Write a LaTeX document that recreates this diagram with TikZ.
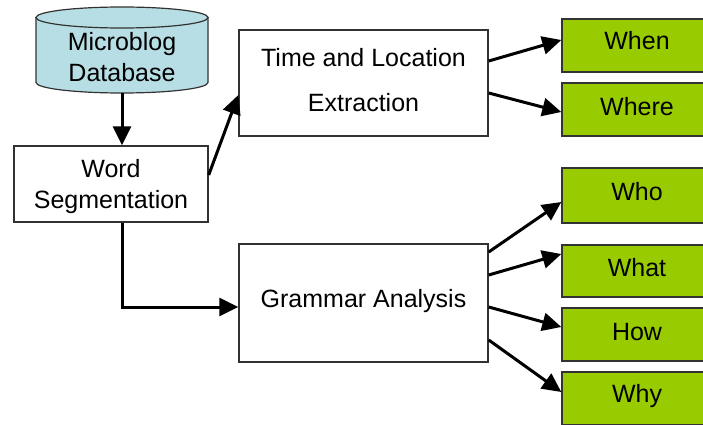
\documentclass[tikz,border=0pt]{standalone}
\usepackage{fontspec}
\setmainfont{Liberation Sans}
\usetikzlibrary{arrows.meta}
\definecolor{dbfill}{RGB}{183,222,228}
\definecolor{greenbox}{RGB}{153,204,0}
\definecolor{boxline}{RGB}{50,50,50}
\tikzset{
  plainbox/.style={draw=boxline, line width=1.4pt, fill=white, inner sep=0pt},
  answerbox/.style={draw=boxline, line width=1.4pt, fill=greenbox, inner sep=0pt, minimum width=150pt},
  boxtext/.style={align=center, inner sep=0pt, font=\fontsize{25}{31}\selectfont},
  flow/.style={line width=3pt, -{Triangle[length=19pt,width=18pt]}},
}
\begin{document}
\begin{tikzpicture}[x=1pt,y=-1pt]
\useasboundingbox (0,0) rectangle (703,425);
\clip (0,0) rectangle (703,425);
% database cylinder
\filldraw[fill=dbfill, draw=boxline, line width=1.2pt]
  (36,17.5) -- (36,82.5) arc[start angle=180, end angle=360, x radius=86pt, y radius=10.5pt] -- (208,17.5) -- cycle;
\filldraw[fill=dbfill, draw=boxline, line width=1.2pt] (122,17.5) ellipse[x radius=86pt, y radius=10.5pt];
\node[boxtext] (db) at (122,57.5) {Microblog\\Database};
\coordinate (dbbottom) at (122,93);
% boxes
\node[plainbox, minimum width=194pt, minimum height=76pt] (wseg) at (111,184) {};
\node[boxtext] (wsegtext) at (111,187) {Word\\Segmentation};
\node[plainbox, minimum width=249pt, minimum height=106pt] (time) at (363.5,83) {};
\node[boxtext] (timetext) at (363.5,80) {Time and Location\\[14pt]Extraction};
\node[plainbox, minimum width=249pt, minimum height=118pt] (gram) at (363.5,303) {};
\node[boxtext] (gramtext) at (363.5,301) {Grammar Analysis};
% answers
\node[answerbox, minimum height=53pt] (when) at (637,45.5) {};
\node[boxtext] (whentext) at (637,41) {When};
\node[answerbox, minimum height=53pt] (where) at (637,109.5) {};
\node[boxtext] (wheretext) at (637,107) {Where};
\node[answerbox, minimum height=55pt] (who) at (637,195.5) {};
\node[boxtext] (whotext) at (637,192) {Who};
\node[answerbox, minimum height=52pt] (what) at (637,271) {};
\node[boxtext] (whattext) at (637,268) {What};
\node[answerbox, minimum height=53pt] (how) at (637,334.5) {};
\node[boxtext] (howtext) at (637,332) {How};
\node[answerbox, minimum height=53pt] (why) at (637,398.5) {};
\node[boxtext] (whytext) at (637,396) {Why};
% connectors
\draw[flow] (dbbottom) -- ([xshift=11pt]wseg.north);
\draw[flow] ([yshift=9pt]wseg.east) -- ([yshift=-12pt]time.west);
\draw[flow, line join=miter] ([xshift=11pt]wseg.south) |- ([yshift=-4pt]gram.west);
\draw[flow] ([yshift=22pt]time.east) -- ([yshift=5.5pt]when.west);
\draw[flow] ([yshift=-10pt]time.east) -- ([yshift=-2.5pt]where.west);
\draw[flow] ([yshift=51pt]gram.east) -- ([yshift=-6.5pt]who.west);
\draw[flow] ([yshift=28pt]gram.east) -- ([yshift=17pt]what.west);
\draw[flow] ([yshift=-4pt]gram.east) -- ([yshift=7.5pt]how.west);
\draw[flow] ([yshift=-37pt]gram.east) -- ([yshift=6.5pt]why.west);
\end{tikzpicture}
\end{document}
